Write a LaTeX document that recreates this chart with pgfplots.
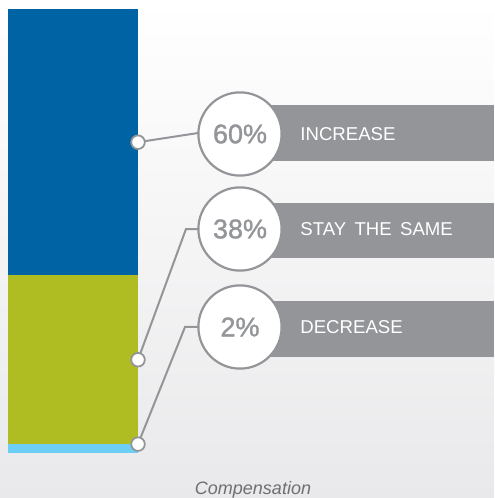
\documentclass[border=0pt]{standalone}
\usepackage{fontspec}
\setmainfont{Liberation Sans}
\newfontface\pctfont[FakeBold=1.3]{Liberation Sans}
\usepackage{pgfplots}
\pgfplotsset{compat=1.18}
\definecolor{cblue}{HTML}{0064A4}
\definecolor{cgreen}{HTML}{B0BD22}
\definecolor{clight}{HTML}{6DCFF6}
\definecolor{cgray}{HTML}{939598}
\definecolor{bgbot}{HTML}{E9E9EB}
\definecolor{captgray}{HTML}{6E6F72}
\begin{document}
\begin{tikzpicture}
\pgfplotsset{base/.style={scale only axis, width=247pt, height=249pt,
  xmin=0, xmax=494, ymin=-10.135, ymax=102.03, hide axis, clip=false}}
\begin{axis}[base, ybar stacked, bar width=130,
  axis background/.style={top color=white, bottom color=bgbot}]
\addplot[fill=clight, draw=none] coordinates {(73,2)};
\addplot[fill=cgreen, draw=none] coordinates {(73,38)};
\addplot[fill=cblue, draw=none] coordinates {(73,60)};
\coordinate (bl) at (rel axis cs:0,0);
\coordinate (tr) at (rel axis cs:1,1);
\end{axis}
\begin{axis}[base]
% label boxes
\fill[cgray] (axis cs:262,78.38) rectangle (axis cs:494,65.77);
\fill[cgray] (axis cs:262,56.31) rectangle (axis cs:494,43.92);
\fill[cgray] (axis cs:262,34.23) rectangle (axis cs:494,21.62);
% leaders
\addplot[draw=cgray, line width=1pt, no marks] coordinates {(138,70) (198,72.07)};
\addplot[draw=cgray, line width=1pt, no marks] coordinates {(138,21) (186,50.45) (198,50.45)};
\addplot[draw=cgray, line width=1pt, no marks] coordinates {(138,2) (185,28.38) (198,28.38)};
% circles
\draw[cgray, line width=1.1pt, fill=white] (axis cs:240,71.85) circle[radius=20.8pt];
\draw[cgray, line width=1.1pt, fill=white] (axis cs:240,50.45) circle[radius=20.8pt];
\draw[cgray, line width=1.1pt, fill=white] (axis cs:240,28.38) circle[radius=20.8pt];
\node[text=cgray, font=\pctfont\fontsize{13.5}{16}\selectfont] at (axis cs:240,71.85) {60\%};
\node[text=cgray, font=\pctfont\fontsize{13.5}{16}\selectfont] at (axis cs:240,50.45) {38\%};
\node[text=cgray, font=\pctfont\fontsize{13.5}{16}\selectfont] at (axis cs:240,28.38) {2\%};
\node[text=white, anchor=west, inner sep=0pt, font=\fontsize{9.3}{11}\selectfont] at (axis cs:300,71.85) {INCREASE};
\node[text=white, anchor=west, inner sep=0pt, font=\fontsize{9.3}{11}\selectfont] at (axis cs:300,50.45) {STAY\hspace{0.45em}THE\hspace{0.45em}SAME};
\node[text=white, anchor=west, inner sep=0pt, font=\fontsize{9.3}{11}\selectfont] at (axis cs:300,28.38) {DECREASE};
% dots on bar edge
\addplot[only marks, mark=*, mark size=3.4pt, mark options={fill=white, draw=cgray, line width=0.9pt}]
  coordinates {(138,70) (138,21) (138,2)};
% caption
\node[text=captgray, font=\fontsize{9}{11}\selectfont\itshape] at (axis cs:253,-8.2) {Compensation};
\end{axis}
\pgfresetboundingbox
\useasboundingbox (bl) rectangle (tr);
\end{tikzpicture}
\end{document}
